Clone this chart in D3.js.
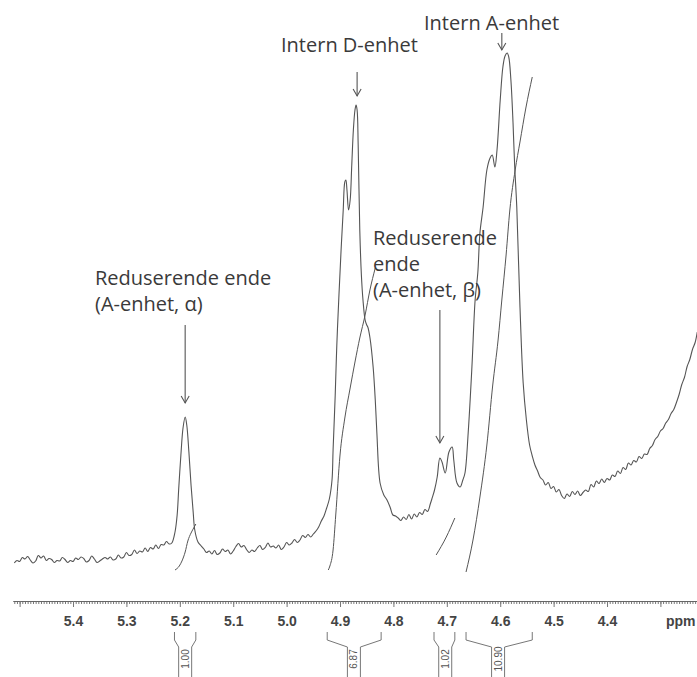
<!DOCTYPE html>
<html>
<head>
<meta charset="utf-8">
<script src="https://cdn.jsdelivr.net/npm/d3@7/dist/d3.min.js"></script>
<style>
  html, body { margin: 0; padding: 0; background: #fff; }
  svg { display: block; }
</style>
</head>
<body>
<svg id="chart" width="697" height="677"></svg>
<script>
// 1H NMR spectrum, anomeric region (ppm, relative intensity)
const spectrumPpm = [
  5.510,5.505,5.500,5.495,5.490,5.485,5.480,5.475,5.470,5.465,5.460,5.455,5.450,5.445,5.440,5.435,5.430,5.425,5.420,5.415,
  5.410,5.405,5.400,5.395,5.390,5.385,5.380,5.375,5.370,5.365,5.360,5.355,5.350,5.345,5.340,5.335,5.330,5.325,5.320,5.315,
  5.310,5.305,5.300,5.295,5.290,5.285,5.280,5.275,5.270,5.265,5.260,5.255,5.250,5.245,5.240,5.235,5.230,5.225,5.220,
  5.215,5.209,5.205,5.202,5.198,5.194,5.190,5.187,5.183,5.179,5.175,5.172,5.166,5.160,
  5.155,5.150,5.145,5.140,5.135,5.130,5.125,5.120,5.115,5.110,5.105,5.100,5.095,5.090,5.085,5.080,5.075,5.070,5.065,5.060,
  5.055,5.050,5.045,5.040,5.035,5.030,5.025,5.020,5.015,5.010,5.005,5.000,4.995,4.990,4.985,4.980,4.975,4.970,4.965,4.960,
  4.955,4.950,4.945,4.940,4.935,4.930,4.925,4.920,4.915,4.913,4.909,4.906,4.902,4.898,4.894,4.891,4.889,4.887,4.884,4.881,
  4.878,4.875,4.872,4.870,4.868,4.866,4.863,4.860,4.857,4.853,4.850,4.848,4.844,4.838,4.834,4.831,4.825,4.818,4.812,4.806,
  4.801,4.796,4.791,4.786,4.781,4.776,4.771,4.766,4.761,4.756,4.751,4.746,4.741,4.736,4.731,4.728,4.723,4.718,4.713,4.709,
  4.703,4.696,4.690,4.687,4.681,4.675,4.670,4.666,4.660,4.653,4.647,4.642,4.638,4.632,4.625,4.619,4.615,4.610,4.606,4.600,
  4.595,4.591,4.587,4.584,4.580,4.576,4.573,4.569,4.563,4.557,4.551,
  4.545,4.540,4.535,4.530,4.525,4.520,4.515,4.510,4.505,4.500,4.495,4.490,4.485,4.480,4.475,4.470,4.465,4.460,4.455,4.450,
  4.445,4.440,4.435,4.430,4.425,4.420,4.415,4.410,4.405,4.400,4.395,4.390,4.385,4.380,4.375,4.370,4.365,4.360,4.355,4.350,
  4.345,4.340,4.335,4.330,4.325,4.320,4.315,4.310,4.305,4.300,4.295,4.290,4.285,4.280,4.275,4.270,4.265,4.260,4.255,4.250,
  4.245,4.240,4.235,4.231
];
const spectrumIntensity = [
  2.4,2.9,2.7,3.5,3.2,3.7,3.0,2.4,2.8,3.9,3.4,3.8,2.9,3.3,3.1,2.5,2.9,2.8,3.5,3.1,
  2.5,2.9,2.7,3.4,3.1,3.6,3.3,2.6,2.9,3.8,3.2,2.5,2.8,3.2,3.5,3.2,3.6,3.0,3.2,4.0,
  3.4,3.6,4.5,3.9,4.1,5.0,4.3,4.8,4.6,5.4,4.7,5.5,5.2,6.0,5.3,6.1,6.0,6.7,6.2,
  6.4,8.6,12.0,17.4,24.0,29.4,31.6,30.0,24.6,18.0,12.6,9.0,6.6,5.8,
  5.2,4.5,4.8,4.2,4.9,4.1,4.4,5.2,4.7,5.0,4.2,4.8,5.7,6.3,5.6,5.9,5.1,4.5,5.0,4.7,
  5.4,5.9,5.1,5.5,6.4,5.6,5.8,5.4,6.0,5.1,5.6,6.5,6.0,6.4,7.1,6.5,7.0,7.9,7.5,8.1,
  7.6,8.2,8.8,9.6,10.8,11.8,13.4,15.2,19.0,25.0,36.0,46.0,56.0,65.0,73.0,78.6,79.0,77.0,73.0,75.0,
  82.0,89.0,93.0,94.0,93.0,86.0,69.0,60.0,55.0,51.0,50.0,49.6,47.5,41.6,35.0,28.4,18.4,16.0,15.0,13.5,
  12.0,11.8,11.4,10.9,11.6,11.1,12.1,11.2,12.2,11.6,12.5,12.1,13.1,12.7,14.2,15.2,17.0,19.6,23.4,22.6,
  20.4,24.6,25.6,23.0,18.4,17.6,19.0,20.4,28.4,41.6,55.0,60.4,68.4,73.6,81.0,83.4,84.0,81.6,85.0,95.0,
  101.6,103.8,104.4,103.6,99.0,90.4,82.0,73.6,53.6,38.4,31.0,
  26.0,23.8,22.0,20.8,19.5,19.0,18.0,18.5,17.3,17.7,16.6,17.1,15.9,15.3,16.2,15.7,16.7,16.1,16.8,15.9,
  16.5,17.0,16.7,18.1,17.6,18.8,18.3,19.2,18.5,19.3,19.0,20.0,19.7,20.8,20.3,21.5,21.1,22.4,22.0,22.9,
  22.6,23.7,23.3,24.2,24.1,25.3,25.9,27.1,27.7,28.8,29.3,30.4,31.1,32.3,33.1,34.5,36.1,38.1,39.5,41.7,
  43.1,45.1,46.5,48.6
];

// Running integral traces over each integrated region
const integralCurve1 = [[5.209,1.0],[5.201,1.8],[5.196,2.8],[5.190,4.6],[5.185,6.8],[5.179,8.4],[5.173,9.6],[5.170,10.2]];
const integralCurve2 = [[4.922,1.0],[4.919,1.8],[4.913,5.0],[4.908,12.0],[4.900,24.0],[4.891,31.4],[4.881,37.4],
                        [4.872,42.6],[4.863,47.4],[4.853,52.0],[4.844,57.0],[4.834,61.4]];
const integralCurve3 = [[4.720,4.0],[4.701,7.6],[4.685,11.4]];
const integralCurve4 = [[4.664,0.6],[4.651,7.0],[4.638,15.6],[4.625,26.0],[4.614,38.0],[4.604,47.0],[4.597,55.0],
                        [4.589,64.0],[4.582,73.0],[4.572,81.0],[4.563,86.6],[4.552,93.4],[4.540,99.6]];

// Integral brackets under the axis
const integralValues = ["1.00", "6.87", "1.02", "10.90"];
const integralStart  = [5.210, 4.924, 4.724, 4.664];
const integralEnd    = [5.170, 4.823, 4.685, 4.540];
const integralCentre = [5.190, 4.874, 4.703, 4.604];

// Axis ticks
const majorTicks = [5.5, 5.4, 5.3, 5.2, 5.1, 5.0, 4.9, 4.8, 4.7, 4.6, 4.5, 4.4, 4.3];
const tickLabels = ["", "5.4", "5.3", "5.2", "5.1", "5.0", "4.9", "4.8", "4.7", "4.6", "4.5", "4.4", ""];
const axisUnit = "ppm";

// Peak assignments
const peakLabels = [
  ["Intern D-enhet"],
  ["Intern A-enhet"],
  ["Reduserende ende", "(A-enhet, α)"],
  ["Reduserende", "ende", "(A-enhet, β)"]
];
const peakArrowPpm = [4.868, 4.597, 5.190, 4.713];

// ---------------------------------------------------------------------------
const svg = d3.select("#chart");
const ink = "#555";
const textInk = "#3a3a3a";

const x = d3.scaleLinear().domain([5.5124, 4.2315]).range([13, 697]);
const y = d3.scaleLinear().domain([0, 100]).range([575, 75]);

// spectrum trace
const spectrum = spectrumPpm.map((p, i) => [p, spectrumIntensity[i]]);
svg.append("path")
  .datum(spectrum)
  .attr("d", d3.line().x(d => x(d[0])).y(d => y(d[1])).curve(d3.curveCatmullRom.alpha(0.5)))
  .attr("fill", "none")
  .attr("stroke", ink)
  .attr("stroke-width", 1.1)
  .attr("stroke-linejoin", "round");

// integral traces
const integralLine = d3.line().x(d => x(d[0])).y(d => y(d[1])).curve(d3.curveMonotoneX);
[integralCurve1, integralCurve2, integralCurve3, integralCurve4].forEach(c => {
  svg.append("path")
    .datum(c)
    .attr("d", integralLine)
    .attr("fill", "none")
    .attr("stroke", ink)
    .attr("stroke-width", 1);
});

// ppm axis
const axisY = 601;
const minorTicks = d3.range(0, 257).map(i => +(5.51 - i * 0.005).toFixed(3)).filter(v => v >= 4.232);
const gMinor = svg.append("g").attr("transform", `translate(0,${axisY})`)
  .call(d3.axisBottom(x).tickValues(minorTicks).tickFormat("").tickSize(3).tickSizeOuter(0));
const gMajor = svg.append("g").attr("transform", `translate(0,${axisY})`)
  .call(d3.axisBottom(x).tickValues(majorTicks)
    .tickFormat((d, i) => tickLabels[i]).tickSize(6).tickPadding(9).tickSizeOuter(0));
[gMinor, gMajor].forEach(g => {
  g.select(".domain").attr("stroke", "#666");
  g.selectAll(".tick line").attr("stroke", "#777");
});
gMajor.selectAll(".tick text")
  .attr("fill", "#444")
  .style("font-family", "'Liberation Sans', Arial, sans-serif")
  .style("font-size", "14px")
  .style("font-weight", "bold");
svg.append("text")
  .attr("x", 666).attr("y", 626)
  .attr("fill", "#444")
  .style("font-family", "'Liberation Sans', Arial, sans-serif")
  .style("font-size", "14px")
  .style("font-weight", "bold")
  .text(axisUnit);

// integral brackets
const bTop = 632, bKnee = 640, bStem = 647, bBottom = 690, stemHalf = 6.5;
integralValues.forEach((v, i) => {
  const x0 = x(integralStart[i]), x1 = x(integralEnd[i]), xc = x(integralCentre[i]);
  const g = svg.append("g");
  const path = d3.path();
  path.moveTo(x0, bTop); path.lineTo(x0, bKnee); path.lineTo(xc - stemHalf, bStem); path.lineTo(xc - stemHalf, bBottom);
  path.moveTo(x1, bTop); path.lineTo(x1, bKnee); path.lineTo(xc + stemHalf, bStem); path.lineTo(xc + stemHalf, bBottom);
  g.append("path").attr("d", path.toString())
    .attr("fill", "none").attr("stroke", "#777").attr("stroke-width", 1);
  g.append("text")
    .attr("transform", `translate(${xc + 3.5},${bStem + 12}) rotate(-90)`)
    .attr("text-anchor", "middle")
    .attr("fill", "#555")
    .style("font-family", "'Liberation Sans', Arial, sans-serif")
    .style("font-size", "10px")
    .text(v);
});

// peak labels with arrows
const labelAt = [[281, 52], [424, 30], [95, 285], [373, 245]];
const arrowSpan = [[72, 96], [33, 50], [325, 403], [310, 443]];
const lineGap = 26;

peakLabels.forEach((lines, i) => {
  const t = svg.append("text")
    .attr("fill", textInk)
    .style("font-family", "'Open Sans', sans-serif")
    .style("font-size", "20px");
  lines.forEach((s, j) => {
    t.append("tspan").attr("x", labelAt[i][0]).attr("y", labelAt[i][1] + j * lineGap).text(s);
  });
  const ax = x(peakArrowPpm[i]);
  const [a0, a1] = arrowSpan[i];
  svg.append("line")
    .attr("x1", ax).attr("x2", ax).attr("y1", a0).attr("y2", a1)
    .attr("stroke", "#555").attr("stroke-width", 1.1);
  svg.append("path")
    .attr("d", `M${ax - 4},${a1 - 7}L${ax},${a1}L${ax + 4},${a1 - 7}`)
    .attr("fill", "none").attr("stroke", "#555").attr("stroke-width", 1.1);
});
</script>
</body>
</html>
